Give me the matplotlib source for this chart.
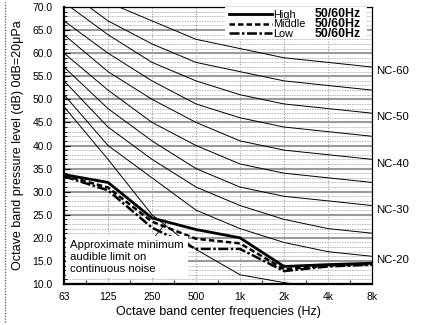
import matplotlib.pyplot as plt
import numpy as np
from matplotlib.lines import Line2D
from matplotlib.patches import Rectangle
from matplotlib.ticker import MultipleLocator

plt.rcParams['font.family'] = ['Liberation Sans', 'DejaVu Sans']

# octave band centres
octave_labels = ['63', '125', '250', '500', '1k', '2k', '4k', '8k']

# NC reference curves (dB per octave band)
nc20 = [51, 40, 33, 26, 22, 19, 17, 16]
nc25 = [54, 44, 37, 31, 27, 24, 22, 21]
nc30 = [57, 48, 41, 35, 31, 29, 28, 27]
nc35 = [60, 52, 45, 40, 36, 34, 33, 32]
nc40 = [64, 56, 50, 45, 41, 39, 38, 37]
nc45 = [67, 60, 54, 49, 46, 44, 43, 42]
nc50 = [71, 64, 58, 54, 51, 49, 48, 47]
nc55 = [74, 67, 62, 58, 56, 54, 53, 52]
nc60 = [77, 71, 67, 63, 61, 59, 58, 57]
nc_labelled = [60, 50, 40, 30, 20]

# measured levels
high = [33.7, 32.0, 24.3, 21.8, 20.0, 13.8, 14.2, 14.5]
middle = [33.5, 30.9, 23.5, 19.8, 18.8, 13.2, 14.0, 14.3]
low = [33.3, 30.3, 22.2, 17.6, 17.6, 12.8, 13.8, 14.2]

# approximate minimum audible limit
audible = [48.4, 37.0, 25.0, 17.5, 12.0, 10.3, 9.0, 9.0]

nc_curves = {20: nc20, 25: nc25, 30: nc30, 35: nc35, 40: nc40,
             45: nc45, 50: nc50, 55: nc55, 60: nc60}

fig = plt.figure(figsize=(4.21, 3.25), dpi=100)
ax = fig.add_axes([64 / 421, 41 / 325, 308 / 421, 277 / 325])

x = np.arange(len(octave_labels))

ax.set_axisbelow(True)
ax.yaxis.grid(True, which='major', color='#9a9a9a', lw=1.5, ls='-')
ax.yaxis.grid(True, which='minor', color='#b4b4b4', lw=0.6, ls=(0, (2, 1)))
ax.xaxis.grid(True, which='major', color='#9a9a9a', lw=0.8, ls=(0, (1, 1.5)))

for lvl, vals in nc_curves.items():
    ax.plot(x, vals, color='black', lw=0.7, zorder=2)
ax.plot(x, audible, color='black', lw=0.7, zorder=2)

l_high, = ax.plot(x, high, color='black', lw=2.0, label='High', zorder=3)
l_mid, = ax.plot(x, middle, color='black', lw=1.8, ls=(0, (2.2, 1.2)),
                 label='Middle', zorder=3)
l_low, = ax.plot(x, low, color='black', lw=1.8, ls=(0, (4, 1, 1, 1)),
                 label='Low', zorder=3)

ax.set_xlim(0, 7)
ax.set_ylim(10, 70)
ax.set_xticks(x)
ax.set_xticklabels(octave_labels)
ax.xaxis.set_minor_locator(MultipleLocator(0.5))
ax.yaxis.set_major_locator(MultipleLocator(5))
ax.yaxis.set_minor_locator(MultipleLocator(1))
ax.yaxis.set_major_formatter(lambda v, p: f'{v:.1f}')
ax.tick_params(axis='both', which='both', direction='in', labelsize=7.5)
ax.tick_params(axis='y', which='major', length=4, pad=8)
ax.tick_params(axis='y', which='minor', length=2.5)
ax.tick_params(axis='x', which='major', length=0, pad=6)
ax.tick_params(axis='x', which='minor', length=3)

for side in ['top', 'right']:
    ax.spines[side].set_linewidth(0.9)
for side in ['left', 'bottom']:
    ax.spines[side].set_linewidth(1.6)

ax.set_xlabel('Octave band center frequencies (Hz)', fontsize=9, labelpad=3)
ax.set_ylabel('Octave band pressure level (dB) 0dB=20\u03bcPa', fontsize=9,
              labelpad=6)

# NC labels on the right
for lvl in nc_labelled:
    ax.annotate(f'NC-{lvl}', xy=(1, nc_curves[lvl][-1]),
                xycoords=('axes fraction', 'data'), xytext=(3, -3),
                textcoords='offset points', va='center', ha='left',
                fontsize=8.2, annotation_clip=False)

# legend
ax.add_patch(Rectangle((0.523, 0.885), 0.461, 0.115, transform=ax.transAxes,
                       facecolor='white', edgecolor='none', zorder=4))
leg = ax.legend(handles=[l_high, l_mid, l_low], loc='upper left',
                bbox_to_anchor=(0.523, 1.005), frameon=False, fontsize=7.8,
                handlelength=3.9, handletextpad=0.1, labelspacing=-0.05,
                borderaxespad=0, borderpad=0.4)
leg.set_zorder(5)
ax.text(0.813, 0.938, '50/60Hz\n50/60Hz\n50/60Hz', transform=ax.transAxes,
        fontsize=8.8, fontweight='bold', va='center', ha='left',
        linespacing=0.78, zorder=6)

# annotation box
ax.annotate('Approximate minimum\naudible limit on\ncontinuous noise',
            xy=(2.32, 23.3), xytext=(0.02, 0.158),
            textcoords='axes fraction', fontsize=8.2, va='top', ha='left',
            linespacing=1.25,
            bbox=dict(boxstyle='square,pad=0.35', facecolor='white',
                      edgecolor='none'),
            arrowprops=dict(arrowstyle='-', color='black', lw=0.6,
                            shrinkA=0, shrinkB=0,
                            relpos=(0.72, 1.0)),
            zorder=6)

# dotted decoration at the far left
fig.add_artist(Line2D([5 / 421, 5 / 421], [0.01, 0.995], color='#555555',
                      lw=0.9, ls=(0, (1, 1.2))))

fig.savefig('out.png', dpi=100)
